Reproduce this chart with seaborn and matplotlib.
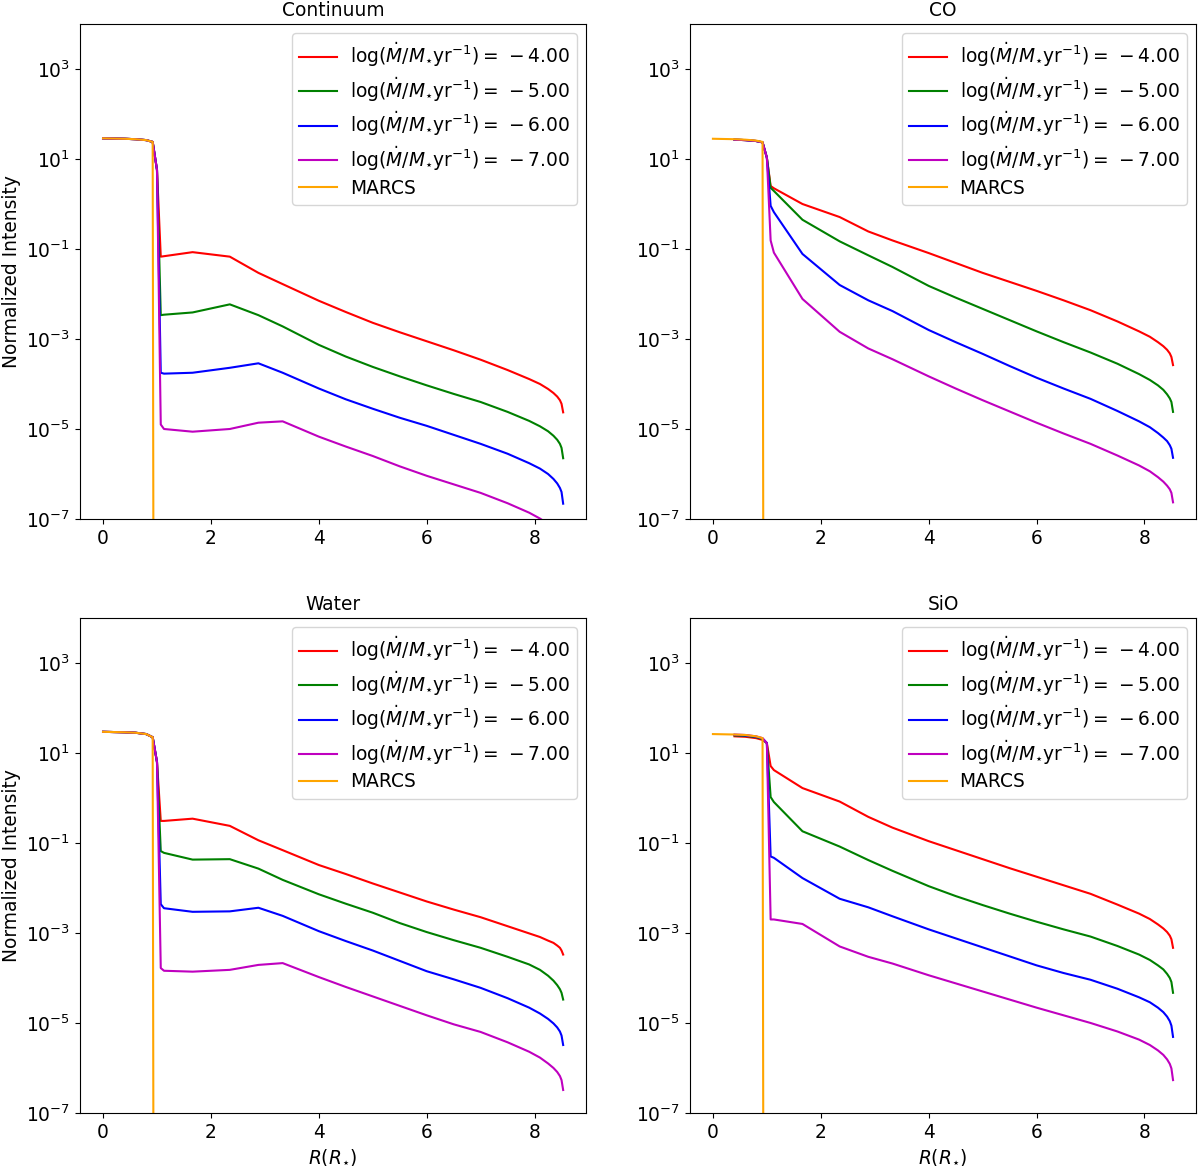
import numpy as np
import pandas as pd
import matplotlib
matplotlib.use("Agg")
import matplotlib.pyplot as plt
import seaborn as sb

# radius grid in R_star (shared by all model curves)
R = [0.0, 0.2, 0.4, 0.6, 0.8, 0.92, 1.0, 1.07, 1.13, 1.66, 2.35, 2.88, 3.33,
     4.0, 4.5, 5.0, 5.5, 6.0, 6.5, 7.0,
     7.5, 7.9, 8.1, 8.25, 8.35, 8.42, 8.47, 8.5, 8.53]

# MARCS profile (drops to ~0 just outside the photosphere)
R_marcs = [0.0, 0.2, 0.4, 0.6, 0.8, 0.92, 0.94]

# all intensities below are log10(normalized intensity)
N = np.nan

cont_m4 = [1.46, 1.455, 1.45, 1.44, 1.42, 1.38, 0.76, -1.17, -1.16, -1.07, -1.17, -1.53, -1.78,
           -2.15, -2.40, -2.64, -2.85, -3.05, -3.25, -3.46,
           -3.69, -3.89, -4.00, -4.11, -4.20, -4.28, -4.36, -4.44, -4.63]
cont_m5 = [1.46, 1.455, 1.45, 1.44, 1.42, 1.38, 0.76, -2.47, -2.46, -2.41, -2.23, -2.47, -2.72,
           -3.13, -3.39, -3.62, -3.83, -4.03, -4.22, -4.40,
           -4.62, -4.82, -4.94, -5.05, -5.15, -5.24, -5.33, -5.42, -5.65]
cont_m6 = [1.46, 1.455, 1.45, 1.44, 1.42, 1.38, 0.76, -3.75, -3.77, -3.75, -3.64, -3.54, -3.75,
           -4.10, -4.34, -4.55, -4.75, -4.93, -5.13, -5.33,
           -5.55, -5.76, -5.88, -6.00, -6.11, -6.21, -6.31, -6.40, -6.66]
cont_m7 = [1.46, 1.455, 1.45, 1.44, 1.42, 1.38, 0.76, -4.90, -5.00, -5.06, -5.00, -4.86, -4.83,
           -5.17, -5.39, -5.60, -5.83, -6.04, -6.23, -6.42,
           -6.65, -6.86, -6.99, -7.11, -7.22, -7.32, -7.42, -7.51, -7.76]
cont_marcs = [1.46, 1.455, 1.45, 1.44, 1.42, 1.38, -12.0]

co_m4 = [N, N, 1.43, 1.42, 1.40, 1.37, 1.03, 0.40, 0.35, 0.00, -0.29, -0.61, -0.81,
         -1.09, -1.31, -1.53, -1.73, -1.93, -2.14, -2.36,
         -2.61, -2.83, -2.95, -3.07, -3.16, -3.24, -3.32, -3.40, -3.58]
co_m5 = [N, N, 1.43, 1.42, 1.40, 1.37, 1.03, 0.36, 0.29, -0.35, -0.83, -1.14, -1.40,
         -1.82, -2.08, -2.33, -2.58, -2.83, -3.07, -3.30,
         -3.55, -3.78, -3.91, -4.03, -4.13, -4.23, -4.32, -4.40, -4.62]
co_m6 = [N, N, 1.43, 1.42, 1.40, 1.37, 1.03, -0.04, -0.18, -1.11, -1.80, -2.14, -2.38,
         -2.80, -3.07, -3.33, -3.60, -3.86, -4.10, -4.33,
         -4.60, -4.83, -4.96, -5.09, -5.19, -5.27, -5.36, -5.44, -5.64]
co_m7 = [N, N, 1.43, 1.42, 1.40, 1.37, 1.03, -0.81, -1.08, -2.11, -2.84, -3.21, -3.45,
         -3.83, -4.10, -4.36, -4.61, -4.86, -5.10, -5.33,
         -5.59, -5.81, -5.94, -6.07, -6.17, -6.26, -6.34, -6.42, -6.63]
co_marcs = [1.45, 1.445, 1.44, 1.43, 1.41, 1.38, -12.0]

water_m4 = [1.47, 1.465, 1.46, 1.45, 1.42, 1.35, 0.80, -0.51, -0.51, -0.46, -0.62, -0.94, -1.16,
            -1.49, -1.69, -1.90, -2.10, -2.30, -2.48, -2.65,
            -2.85, -3.01, -3.09, -3.17, -3.22, -3.28, -3.33, -3.39, -3.48]
water_m5 = [1.47, 1.465, 1.46, 1.45, 1.42, 1.35, 0.80, -1.18, -1.22, -1.37, -1.36, -1.57, -1.82,
            -2.14, -2.35, -2.55, -2.78, -2.98, -3.16, -3.33,
            -3.53, -3.70, -3.82, -3.95, -4.06, -4.16, -4.25, -4.33, -4.48]
water_m6 = [1.47, 1.465, 1.46, 1.45, 1.42, 1.35, 0.80, -2.36, -2.45, -2.53, -2.52, -2.44, -2.62,
            -2.96, -3.18, -3.39, -3.62, -3.85, -4.03, -4.22,
            -4.45, -4.66, -4.79, -4.91, -5.01, -5.10, -5.19, -5.28, -5.49]
water_m7 = [1.47, 1.465, 1.46, 1.45, 1.42, 1.35, 0.80, -3.78, -3.84, -3.86, -3.82, -3.71, -3.67,
            -3.98, -4.20, -4.41, -4.62, -4.83, -5.03, -5.20,
            -5.43, -5.64, -5.77, -5.90, -6.00, -6.09, -6.18, -6.27, -6.49]
water_marcs = [1.47, 1.465, 1.46, 1.45, 1.42, 1.35, -12.0]

sio_m4 = [N, N, 1.37, 1.36, 1.33, 1.29, 1.22, 0.71, 0.62, 0.22, -0.08, -0.42, -0.66,
          -0.96, -1.16, -1.36, -1.56, -1.75, -1.94, -2.13,
          -2.37, -2.57, -2.69, -2.81, -2.90, -2.98, -3.06, -3.14, -3.33]
sio_m5 = [N, N, 1.39, 1.38, 1.35, 1.31, 1.22, 0.02, -0.09, -0.74, -1.08, -1.38, -1.62,
          -1.96, -2.18, -2.38, -2.57, -2.75, -2.92, -3.08,
          -3.29, -3.48, -3.60, -3.72, -3.81, -3.91, -4.00, -4.09, -4.33]
sio_m6 = [N, N, 1.40, 1.39, 1.36, 1.32, 1.22, -1.30, -1.33, -1.78, -2.24, -2.43, -2.63,
          -2.92, -3.12, -3.32, -3.52, -3.72, -3.89, -4.04,
          -4.24, -4.43, -4.54, -4.66, -4.76, -4.86, -4.96, -5.06, -5.31]
sio_m7 = [N, N, 1.41, 1.40, 1.37, 1.33, 1.22, -2.70, -2.70, -2.80, -3.30, -3.53, -3.68,
          -3.94, -4.12, -4.30, -4.48, -4.66, -4.83, -5.00,
          -5.19, -5.37, -5.49, -5.61, -5.71, -5.81, -5.91, -6.01, -6.27]
sio_marcs = [1.42, 1.415, 1.41, 1.40, 1.37, 1.33, -12.0]

mdot_values = ['4.00', '5.00', '6.00', '7.00']
mdot_labels = [r'$\log(\dot{M}/M_{\star}\mathrm{yr}^{-1}) =\,-%s$' % v for v in mdot_values]
line_colors = ['red', 'green', 'blue', 'm']

panels = [('Continuum', [cont_m4, cont_m5, cont_m6, cont_m7], cont_marcs),
          ('CO', [co_m4, co_m5, co_m6, co_m7], co_marcs),
          ('Water', [water_m4, water_m5, water_m6, water_m7], water_marcs),
          ('SiO', [sio_m4, sio_m5, sio_m6, sio_m7], sio_marcs)]

plt.rcParams['font.size'] = 13.4

fig, axes = plt.subplots(2, 2, figsize=(12, 11.66), dpi=100)
fig.subplots_adjust(left=0.0667, right=0.9967, top=0.9794, bottom=0.0455,
                    wspace=0.205, hspace=0.2)

for i, (title, models, marcs) in enumerate(panels):
    ax = axes.flat[i]
    for vals, lab, col in zip(models, mdot_labels, line_colors):
        df = pd.DataFrame({'R': R, 'I': np.power(10.0, vals)})
        sb.lineplot(data=df, x='R', y='I', ax=ax, color=col, label=lab, linewidth=1.5)
    dfm = pd.DataFrame({'R': R_marcs, 'I': np.power(10.0, marcs)})
    sb.lineplot(data=dfm, x='R', y='I', ax=ax, color='orange', label='MARCS', linewidth=1.5)

    ax.set_yscale('log')
    ax.set_ylim(1e-7, 1e4)
    ax.set_yticks([1e-7, 1e-5, 1e-3, 1e-1, 1e1, 1e3])
    ax.yaxis.set_minor_locator(matplotlib.ticker.NullLocator())
    ax.set_xticks([0, 2, 4, 6, 8])
    ax.set_title(title, fontsize=13.4)
    ax.legend(loc='upper right', fontsize=13.4, labelspacing=0.32, handletextpad=0.7)
    ax.set_xlabel(r'$R(R_{\star})$' if i >= 2 else '')
    ax.set_ylabel('Normalized Intensity' if i % 2 == 0 else '')

fig.savefig('out.png', dpi=100)
